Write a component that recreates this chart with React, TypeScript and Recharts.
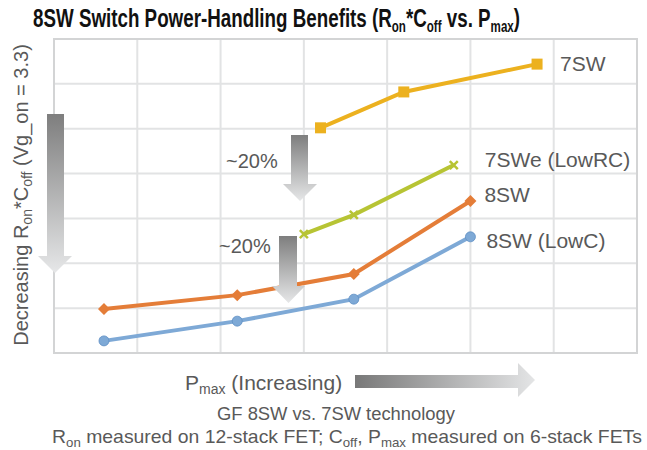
import { LineChart, Line, XAxis, YAxis, CartesianGrid, ReferenceArea, LabelList } from "recharts";

// x = Pmax position, y = Ron*Coff position (arbitrary units)
const x8sw = [0.6, 2.2, 3.6, 5.0];
const y8sw = [0.98, 1.29, 1.76, 3.39];
const x8swLowC = [0.6, 2.2, 3.6, 5.0];
const y8swLowC = [0.27, 0.71, 1.2, 2.59];
const x7swe = [3.0, 3.6, 4.8];
const y7swe = [2.65, 3.08, 4.19];
const x7sw = [3.2, 4.2, 5.8];
const y7sw = [5.02, 5.82, 6.44];

const gridTicks = [0, 1, 2, 3, 4, 5, 6, 7];

const FONT = "'Liberation Sans', Arial, sans-serif";
const TEXT = "#595959";

const toRows = (xs: number[], ys: number[]) => xs.map((x, i) => ({ x, y: ys[i] }));

const series = [
  { name: "7SW", data: toRows(x7sw, y7sw), color: "#ECB11F", marker: "square", dx: 23, dy: 7 },
  { name: "7SWe (LowRC)", data: toRows(x7swe, y7swe), color: "#B7C434", marker: "cross", dx: 31, dy: 2 },
  { name: "8SW", data: toRows(x8sw, y8sw), color: "#E47D38", marker: "diamond", dx: 14, dy: 1 },
  { name: "8SW (LowC)", data: toRows(x8swLowC, y8swLowC), color: "#7EA9D6", marker: "circle", dx: 16, dy: 11 },
];

const makeDot = (marker: string, color: string) => (props: any) => {
  const { cx, cy, index } = props;
  if (cx == null || cy == null) return <g key={index} />;
  if (marker === "square")
    return <rect key={index} x={cx - 5.5} y={cy - 5.5} width={11} height={11} fill={color} />;
  if (marker === "diamond")
    return <path key={index} d={`M${cx},${cy - 6}L${cx + 6},${cy}L${cx},${cy + 6}L${cx - 6},${cy}Z`} fill={color} />;
  if (marker === "circle")
    return <circle key={index} cx={cx} cy={cy} r={5} fill={color} stroke="#5f8fc4" strokeWidth={0.8} />;
  return (
    <path key={index} d={`M${cx - 4},${cy - 4}L${cx + 4},${cy + 4}M${cx + 4},${cy - 4}L${cx - 4},${cy + 4}`} stroke={color} strokeWidth={2.5} />
  );
};

const makeLabel = (s: (typeof series)[number]) => (props: any) => {
  const { x, y, index } = props;
  if (index !== s.data.length - 1) return null;
  return (
    <text x={x + s.dx} y={y + s.dy} fill={TEXT} fontSize={21} fontFamily={FONT}>
      {s.name}
    </text>
  );
};

const Overlay = () => (
  <svg width={647} height={450} style={{ position: "absolute", left: 0, top: 0, pointerEvents: "none" }}>
    <defs>
      <linearGradient id="down" x1="0" y1="0" x2="0" y2="1">
        <stop offset="0%" stopColor="#7e7e7e" />
        <stop offset="100%" stopColor="#e6e7e8" />
      </linearGradient>
      <linearGradient id="right" x1="0" y1="0" x2="1" y2="0">
        <stop offset="0%" stopColor="#787878" />
        <stop offset="100%" stopColor="#e4e5e6" />
      </linearGradient>
    </defs>
    {/* title */}
    <text x={33} y={27} fontFamily={FONT} fontWeight="bold" fontSize={26} fill="#111" textLength={487} lengthAdjust="spacingAndGlyphs">
      8SW Switch Power-Handling Benefits (R<tspan dy={5} fontSize={16}>on</tspan>
      <tspan dy={-5}>*C</tspan><tspan dy={5} fontSize={16}>off</tspan>
      <tspan dy={-5}> vs. P</tspan><tspan dy={5} fontSize={16}>max</tspan><tspan dy={-5}>)</tspan>
    </text>
    {/* y label */}
    <text transform="rotate(-90, 28, 195)" x={28} y={195} textAnchor="middle" fontFamily={FONT} fontSize={20} fill={TEXT}>
      Decreasing R<tspan dy={4} fontSize={14}>on</tspan><tspan dy={-4}>*C</tspan>
      <tspan dy={4} fontSize={14}>off</tspan><tspan dy={-4}> (Vg_on = 3.3)</tspan>
    </text>
    {/* arrows */}
    <path d="M47,114 H64 V256 H72 L55,273 L38,256 H47 Z" fill="url(#down)" />
    <path d="M291,135 H308 V184 H317 L300,201 L283,184 H291 Z" fill="url(#down)" />
    <path d="M279,236 H297 V286 H305 L288.5,303 L272,286 H279 Z" fill="url(#down)" />
    <path d="M355,375 H518 V363 L535,380 L518,397 V388 H355 Z" fill="url(#right)" />
    <text x={226} y={168} fontFamily={FONT} fontSize={20} fill={TEXT}>~20%</text>
    <text x={219} y={253} fontFamily={FONT} fontSize={20} fill={TEXT}>~20%</text>
    {/* x label */}
    <text x={185} y={390} fontFamily={FONT} fontSize={21} fill={TEXT}>
      P<tspan dy={4} fontSize={14}>max</tspan><tspan dy={-4}> (Increasing)</tspan>
    </text>
    <text x={217} y={420} fontFamily={FONT} fontSize={18} fill={TEXT} textLength={238} lengthAdjust="spacingAndGlyphs">
      GF 8SW vs. 7SW technology
    </text>
    <text x={52} y={443} fontFamily={FONT} fontSize={19} fill={TEXT} textLength={590} lengthAdjust="spacingAndGlyphs">
      R<tspan dy={4} fontSize={13}>on</tspan><tspan dy={-4}> measured on 12-stack FET; C</tspan>
      <tspan dy={4} fontSize={13}>off</tspan><tspan dy={-4}>, P</tspan>
      <tspan dy={4} fontSize={13}>max</tspan><tspan dy={-4}> measured on 6-stack FETs</tspan>
    </text>
  </svg>
);

export default function App() {
  return (
    <div style={{ position: "absolute", left: 0, top: 0, width: 647, height: 450, background: "#fff" }}>
      <LineChart width={647} height={450} margin={{ top: 39, right: 10, bottom: 97, left: 54 }}>
        <CartesianGrid stroke="#e2e3e4" strokeWidth={2} />
        <XAxis type="number" dataKey="x" domain={[0, 7]} ticks={gridTicks} hide />
        <YAxis type="number" dataKey="y" domain={[0, 7]} ticks={gridTicks} hide />
        <ReferenceArea x1={0} x2={7} y1={0} y2={7} fill="none" stroke="#d3d4d5" strokeWidth={2} />
        {series.map((s) => (
          <Line
            key={s.name}
            data={s.data}
            dataKey="y"
            stroke={s.color}
            strokeWidth={4}
            dot={makeDot(s.marker, s.color)}
            activeDot={false}
            isAnimationActive={false}
          >
            <LabelList dataKey="y" content={makeLabel(s)} />
          </Line>
        ))}
      </LineChart>
      <Overlay />
    </div>
  );
}
